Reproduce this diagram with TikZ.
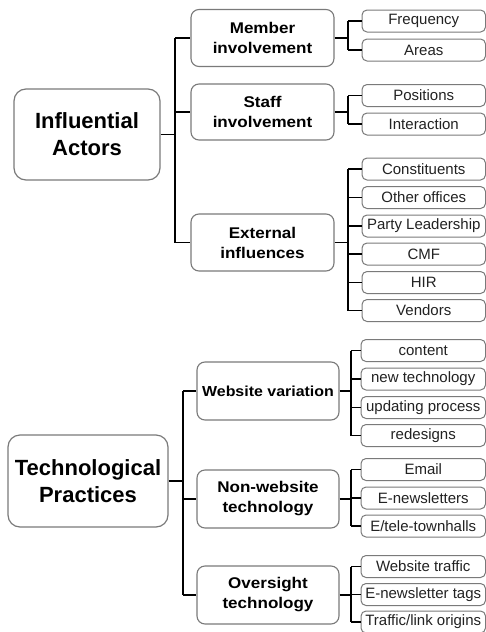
\documentclass[tikz,border=0pt]{standalone}
\usepackage{fontspec}
\setmainfont{Liberation Sans}
\newfontfamily\midfont[FakeStretch=1.1]{Liberation Sans}
\usetikzlibrary{calc}
\definecolor{boxgray}{HTML}{7A7A7A}
\definecolor{leaftext}{HTML}{222222}
\tikzset{
  rootbox/.style={draw=boxgray,line width=1.2pt,rounded corners=12pt,fill=white,
    align=center,inner sep=0pt,font=\fontsize{22}{27}\selectfont\bfseries},
  midbox/.style={draw=boxgray,line width=1.1pt,rounded corners=8pt,fill=white,
    align=center,inner sep=0pt,minimum width=143pt,minimum height=57pt,
    font=\midfont\fontsize{15.5}{20}\selectfont\bfseries},
  leafbox/.style={draw=boxgray,line width=1pt,rounded corners=5pt,fill=white,
    align=center,inner sep=0pt,minimum width=123.5pt,minimum height=22pt,
    text=leaftext,font=\fontsize{15}{18}\selectfont},
  conn/.style={draw=black,line width=1.6pt}
}
\begin{document}
\begin{tikzpicture}[x=1pt,y=-1pt]
\useasboundingbox (0,0) rectangle (486,632);
% ---------- Influential Actors ----------
\node[rootbox,minimum width=146pt,minimum height=91pt] (r1) at (87,134.5) {Influential\\Actors};
\node[midbox] (m1) at (262.5,38) {Member\\involvement};
\node[midbox,minimum height=56pt] (m2) at (262.5,112) {Staff\\involvement};
\node[midbox] (m3) at (262.5,242.5) {External\\influences};
\node[leafbox] (l1) at (423.75,21) {Frequency};
\node[leafbox] (l2) at (423.75,50) {Areas};
\node[leafbox] (l3) at (423.75,95.5) {Positions};
\node[leafbox] (l4) at (423.75,124) {Interaction};
\node[leafbox] (l5) at (423.75,169) {Constituents};
\node[leafbox] (l6) at (423.75,197.5) {Other offices};
\node[leafbox] (l7) at (423.75,226) {Party Leadership};
\node[leafbox] (l8) at (423.75,254) {CMF};
\node[leafbox] (l9) at (423.75,282.5) {HIR};
\node[leafbox] (l10) at (423.75,310.5) {Vendors};
\coordinate (b1) at (175,0);
\coordinate (s1) at (348,0);
\draw[conn] (r1.east) -- (b1 |- r1.east);
\draw[conn] (b1 |- m1.west) -- (b1 |- m3.west);
\foreach \m in {m1,m2,m3} \draw[conn] (b1 |- \m.west) -- (\m.west);
\draw[conn] (m1.east) -- (s1 |- m1.east);
\draw[conn] (s1 |- l1.west) -- (s1 |- l2.west);
\draw[conn] (m2.east) -- (s1 |- m2.east);
\draw[conn] (s1 |- l3.west) -- (s1 |- l4.west);
\draw[conn] (m3.east) -- (s1 |- m3.east);
\draw[conn] (s1 |- l5.west) -- (s1 |- l10.west);
\foreach \l in {l1,l2,l3,l4,l5,l6,l7,l8,l9,l10} \draw[conn] (s1 |- \l.west) -- (\l.west);
% ---------- Technological Practices ----------
\node[rootbox,minimum width=160pt,minimum height=92pt] (r2) at (88,481) {Technological\\Practices};
\node[midbox,minimum width=142pt,minimum height=58pt,font=\midfont\fontsize{14.5}{20}\selectfont\bfseries] (n1) at (268,391) {Website variation};
\node[midbox,minimum width=142pt,minimum height=58pt] (n2) at (268,499) {Non-website\\technology};
\node[midbox,minimum width=142pt,minimum height=58pt] (n3) at (268,595) {Oversight\\technology};
\node[leafbox,minimum width=124.5pt] (k1) at (423.25,350.5) {content};
\node[leafbox,minimum width=124.5pt] (k2) at (423.25,379) {new technology};
\node[leafbox,minimum width=124.5pt] (k3) at (423.25,407.5) {updating process};
\node[leafbox,minimum width=124.5pt] (k4) at (423.25,435.5) {redesigns};
\node[leafbox,minimum width=124.5pt] (k5) at (423.25,469.5) {Email};
\node[leafbox,minimum width=124.5pt] (k6) at (423.25,498) {E-newsletters};
\node[leafbox,minimum width=124.5pt] (k7) at (423.25,526) {E/tele-townhalls};
\node[leafbox,minimum width=124.5pt] (k8) at (423.25,566.5) {Website traffic};
\node[leafbox,minimum width=124.5pt] (k9) at (423.25,594.5) {E-newsletter tags};
\node[leafbox,minimum width=124.5pt] (k10) at (423.25,622) {Traffic/link origins};
\coordinate (b2) at (183,0);
\coordinate (s2) at (351,0);
\draw[conn] (r2.east) -- (b2 |- r2.east);
\draw[conn] (b2 |- n1.west) -- (b2 |- n3.west);
\foreach \m in {n1,n2,n3} \draw[conn] (b2 |- \m.west) -- (\m.west);
\draw[conn] (n1.east) -- (s2 |- n1.east);
\draw[conn] (s2 |- k1.west) -- (s2 |- k4.west);
\draw[conn] (n2.east) -- (s2 |- n2.east);
\draw[conn] (s2 |- k5.west) -- (s2 |- k7.west);
\draw[conn] (n3.east) -- (s2 |- n3.east);
\draw[conn] (s2 |- k8.west) -- (s2 |- k10.west);
\foreach \l in {k1,k2,k3,k4,k5,k6,k7,k8,k9,k10} \draw[conn] (s2 |- \l.west) -- (\l.west);
\end{tikzpicture}
\end{document}
